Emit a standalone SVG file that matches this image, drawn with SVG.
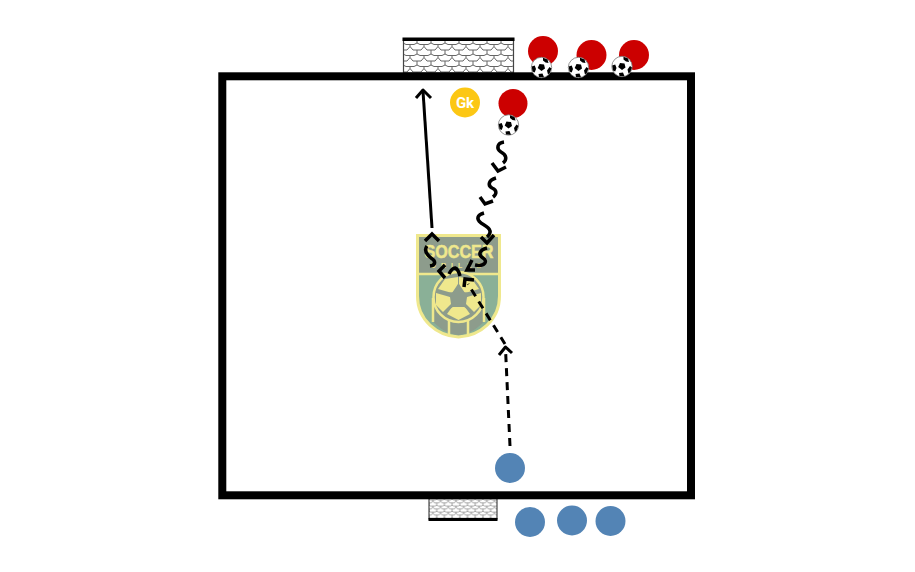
<svg xmlns="http://www.w3.org/2000/svg" width="915" height="572" viewBox="0 0 915 572">
<style>
.red{fill:#cc0000}.blue{fill:#5384b5}
.ln{fill:none;stroke:#000;stroke-width:3;stroke-linejoin:round}
.dash{stroke-dasharray:8 6}
.sq{fill:none;stroke:#000;stroke-width:3.500;stroke-linecap:butt;stroke-linejoin:miter}
.hex{fill:#000}.ballw{fill:#fff;stroke:#777;stroke-width:.8}
</style>
<defs>
<pattern id="net" width="14" height="11" patternUnits="userSpaceOnUse" patternTransform="translate(403 41)"><rect width="14" height="11" fill="#fff"/><path d="M0 0V2L3 3.500H11L14 2V0M7 3.500V5.500L4 9H0V11M7 5.500 10 9H14V11" fill="none" stroke="#666" stroke-width="1"/></pattern>
<pattern id="net2" width="14" height="11" patternUnits="userSpaceOnUse" patternTransform="translate(429 498) scale(.55)"><rect width="14" height="11" fill="#fff"/><path d="M0 0V2L3 3.500H11L14 2V0M7 3.500V5.500L4 9H0V11M7 5.500 10 9H14V11" fill="none" stroke="#888" stroke-width="1.400"/></pattern>
<g id="ball"><circle r="10.200" class="ballw"/><path class="hex" d="M-2-3.500 2.500-3 3.500 1 0 3.500-3.800 .5Z"/><path class="hex" d="M1.500-9.800 6-8 7-4.500 4-5 1.500-7ZM-9.800-1-6.800-2-5.500 1.500-6.800 5-9 4ZM9.900 1 8-.5 5.500 3 6.500 7 8.300 5.500ZM-2.500 9.600-3 6.500 1 6 2.500 9.800Z"/></g>
</defs>
<g id="top-goal"><rect x="403.500" y="39" width="110" height="34" fill="url(#net)" stroke="#444" stroke-width="1.200"/><rect x="402.500" y="37.500" width="112" height="3.500" fill="#000"/></g>
<g id="bottom-goal"><rect x="429" y="497" width="68" height="22" fill="url(#net2)" stroke="#222" stroke-width="1"/><rect x="428.500" y="518" width="69" height="3" fill="#000"/></g>
<g id="logo">
<path d="M417.500 235.500H499.500V296C499.500 320 480 336 458.500 337C437 336 417.500 320 417.500 296Z" fill="#8ab097" stroke="#efe88d" stroke-width="3"/>
<path d="M419 237H498V273H419Z" fill="#8d9c8c"/>
<path d="M418 274H499" stroke="#efe88d" stroke-width="2.500"/>
<text x="459" y="257.500" text-anchor="middle" textLength="69" lengthAdjust="spacingAndGlyphs" font-family="Liberation Sans, sans-serif" font-weight="700" font-size="18" stroke="#efe88d" stroke-width=".5" fill="#efe88d">SOCCER</text>
<text x="458.500" y="268" text-anchor="middle" font-family="Liberation Sans, sans-serif" font-weight="700" font-size="7" letter-spacing="5" fill="#efe88d">DRILLS</text>
<path d="M433.500 298V322C440 329 448 334 458.500 335C469 334 477 329 483.500 322V298Z" fill="#8d9c8c"/>
<path d="M433 298V322M449 312V335M468 312V335M484 298V322" stroke="#efe88d" stroke-width="2.500" fill="none"/>
<circle cx="458.500" cy="297" r="25" fill="#8d9c8c" stroke="#efe88d" stroke-width="2.500"/>
<path fill="#efe88d" d="M458 277 L445 279 438 289 452 293 458 284ZM459 277 472 279 479 289 465 293 459 284ZM436 293 450 297 451 304 443 312 436 305ZM481 293 467 297 466 304 474 312 481 305ZM452 307H465L470 314 458.500 320 447 314Z"/>
<path fill="#8d9c8c" d="M458.500 283 462 292 472 293 464 299 467 309 458.500 303 450 309 453 299 445 293 455 292Z"/>
</g>
<g id="field"><rect x="222.300" y="76.300" width="468.700" height="419" fill="none" stroke="#000" stroke-width="8"/></g>
<g id="connectors">
<path class="ln" d="M432 228 423 91"/>
<path class="ln" d="M416 98 423 90 431 98" stroke-width="3.500"/>
<path class="ln dash" d="M510 446 505.500 349"/>
<path class="ln" d="M499 355 505.500 347 512 353"/>
<path class="ln dash" d="M505 344 468 284"/>
<path class="sq" d="M464 287 465 279 474 280"/>
<path class="sq" d="M504 142C497 143 496 149 501 152C507 155 507 160 503 163"/>
<path class="sq" d="M492 163 498 171 506 167"/>
<path class="sq" d="M496 178C489 180 487 185 492 188C497 190 497 194 493 197"/>
<path class="sq" d="M480 197 485 204 493 201"/>
<path class="sq" d="M484 213C477 215 476 219 481 223C488 227 494 231 487 237"/>
<path class="sq" d="M481 237 487 243 494 235"/>
<path class="sq" d="M487 248C479 250 478 255 483 258C488 261 485 267 475 265"/>
<path class="sq" d="M472 260 467 270 475 270"/>
<path class="sq" d="M449 274C451 270 453 268 455 268C458 269 459 272 460 276"/>
<path class="sq" d="M445 265 439 271 445 278"/>
<path class="sq" d="M427 246C424 250 426 254 431 258C436 261 436 265 430 266"/>
<path class="sq" d="M425 241 432 234 439 241"/>
</g>
<g id="gk"><circle cx="465" cy="102.500" r="15" fill="#fcc714"/><text x="465" y="108" text-anchor="middle" font-family="Roboto, sans-serif" font-weight="700" font-size="15" fill="#fff">Gk</text></g>
<g id="red-1"><circle cx="513" cy="103.500" r="14.500" class="red"/><use href="#ball" x="508.500" y="125"/></g>
<g id="red-2"><circle cx="543" cy="51" r="15" class="red"/><use href="#ball" x="541.500" y="67.500"/></g>
<g id="red-3"><circle cx="591.500" cy="55" r="15" class="red"/><use href="#ball" x="578.500" y="67.500"/></g>
<g id="red-4"><circle cx="634" cy="55" r="15" class="red"/><use href="#ball" x="622" y="66.500"/></g>
<g id="blue-1"><circle cx="510" cy="468" r="15" class="blue"/></g>
<g id="blue-2"><circle cx="530" cy="522" r="15" class="blue"/></g>
<g id="blue-3"><circle cx="572" cy="520.500" r="15" class="blue"/></g>
<g id="blue-4"><circle cx="610.500" cy="521" r="15" class="blue"/></g>
</svg>
